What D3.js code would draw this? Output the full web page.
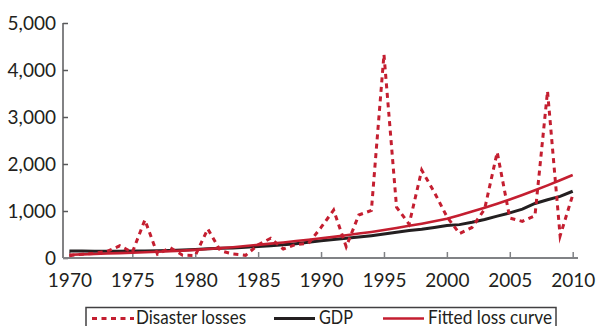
<!DOCTYPE html>
<html>
<head>
<meta charset="utf-8">
<script src="https://cdn.jsdelivr.net/npm/d3@7"></script>
<style>
  html, body { margin: 0; padding: 0; background: #fff; }
  svg text { font-family: Lato, "Liberation Sans", Arial, sans-serif; fill: #231f20; }
</style>
</head>
<body>
<svg id="chart" width="598" height="326"></svg>
<script>
const years = d3.range(1970, 2011);
const disasterLosses = [50, 80, 100, 140, 260, 120, 810, 80, 220, 60, 50,
  620, 155, 85, 57, 280, 420, 190, 290, 310, 650,
  1020, 240, 915, 1010, 4330, 1080, 720, 1870, 1400, 880,
  520, 650, 1040, 2250, 850, 780, 900, 3550, 470, 1340];
const gdp = [150, 148, 146, 145, 146, 148, 150, 155, 162, 172, 183,
  195, 205, 215, 228, 245, 262, 280, 305, 335, 365,
  395, 420, 445, 475, 510, 550, 585, 610, 650, 690,
  710, 760, 820, 890, 960, 1040, 1160, 1240, 1310, 1420];
const fittedLoss = [70, 78, 86, 95, 103, 112, 122, 133, 145, 157, 172,
  190, 210, 230, 255, 280, 305, 330, 360, 390, 420,
  450, 485, 520, 555, 595, 640, 685, 730, 780, 835,
  910, 990, 1070, 1155, 1245, 1340, 1440, 1545, 1655, 1765];
const yTicks = [0, 1000, 2000, 3000, 4000, 5000];
const xTicks = [1970, 1975, 1980, 1985, 1990, 1995, 2000, 2005, 2010];
const legendLabels = ["Disaster losses", "GDP", "Fitted loss curve"];

const RED = "#c41e30", BLACK = "#231f20";
const svg = d3.select("#chart");

const x = d3.scaleLinear().domain([1970, 2010]).range([69.4, 572.7]);
const y = d3.scaleLinear().domain([0, 5000]).range([258, 23]);

// axes
const yAxis = d3.axisLeft(y).tickValues(yTicks).tickSize(-5).tickPadding(12)
  .tickFormat(d3.format(","));
const gy = svg.append("g").attr("transform", "translate(63,0)").call(yAxis);
gy.select(".domain").attr("d", "M0,23V258").attr("stroke", "#58595b").attr("stroke-width", 1.5);
gy.selectAll(".tick line").attr("stroke", "#58595b").attr("stroke-width", 1.5);
gy.selectAll(".tick text").attr("font-size", 19).attr("dy", "0.34em").attr("x", -7);

const xAxis = d3.axisBottom(x).tickValues(xTicks).tickSize(-6).tickPadding(16)
  .tickFormat(d3.format("d"));
const gx = svg.append("g").attr("transform", "translate(0,258)").call(xAxis);
gx.select(".domain").attr("d", "M63,0H578").attr("stroke", "#808285").attr("stroke-width", 2);
gx.selectAll(".tick line").attr("stroke", "#808285").attr("stroke-width", 1.5);
gx.selectAll(".tick text").attr("font-size", 19).attr("y", 16).attr("dy", "0.71em");

// lines
const line = arr => d3.line().x((d, i) => x(years[i])).y(d => y(d))(arr);
svg.append("path").attr("d", line(gdp)).attr("fill", "none")
  .attr("stroke", BLACK).attr("stroke-width", 3);
svg.append("path").attr("d", line(fittedLoss)).attr("fill", "none")
  .attr("stroke", RED).attr("stroke-width", 2.6);
svg.append("path").attr("d", line(disasterLosses)).attr("fill", "none")
  .attr("stroke", RED).attr("stroke-width", 3).attr("stroke-dasharray", "5,4.5")
  .attr("stroke-linejoin", "miter").attr("stroke-miterlimit", 10);

// legend
svg.append("rect").attr("x", 86).attr("y", 307.5).attr("width", 470).attr("height", 30)
  .attr("fill", "none").attr("stroke", "#414042").attr("stroke-width", 1.5);
const legendItems = [
  {label: legendLabels[0], x1: 92, x2: 134, tx: 136, len: 110, color: RED, dash: "5,4.5", w: 3},
  {label: legendLabels[1], x1: 274, x2: 315, tx: 319, len: 34, color: BLACK, dash: null, w: 3},
  {label: legendLabels[2], x1: 383, x2: 424, tx: 428, len: 124, color: RED, dash: null, w: 2.6}
];
const lg = svg.append("g");
legendItems.forEach(it => {
  lg.append("line").attr("x1", it.x1).attr("x2", it.x2).attr("y1", 318.5).attr("y2", 318.5)
    .attr("stroke", it.color).attr("stroke-width", it.w)
    .attr("stroke-dasharray", it.dash);
  lg.append("text").attr("x", it.tx).attr("y", 323.5).attr("font-size", 19)
    .attr("textLength", it.len).attr("lengthAdjust", "spacingAndGlyphs").text(it.label);
});
</script>
</body>
</html>
